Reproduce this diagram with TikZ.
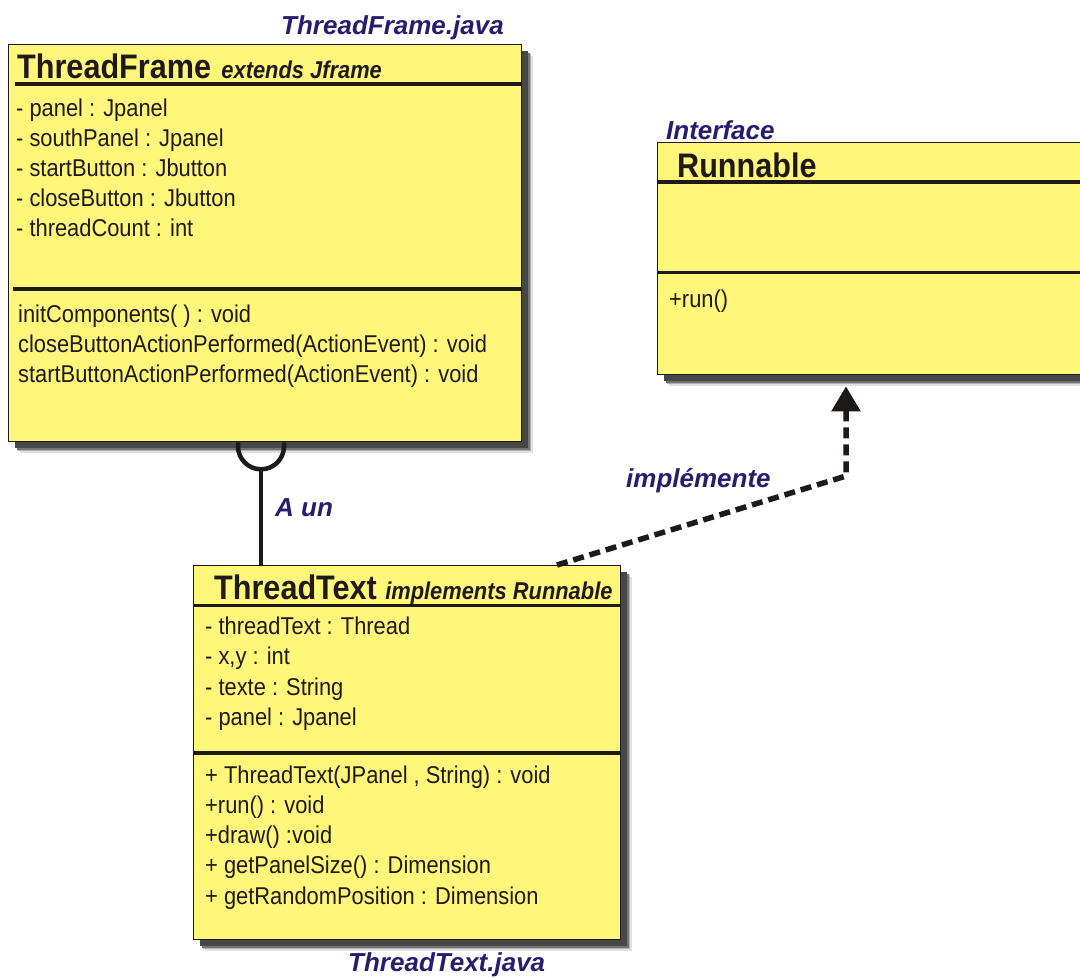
\documentclass[tikz,border=0pt]{standalone}
\usepackage{fontspec}
\setmainfont{Liberation Sans}[FakeStretch=0.9]
\newfontfamily\labelfont{Liberation Sans}
\usetikzlibrary{arrows.meta,shadows,calc}
\definecolor{noteyellow}{RGB}{255,246,122}
\definecolor{labelblue}{RGB}{40,28,110}
\definecolor{ink}{RGB}{30,26,26}
\tikzset{
  classbox/.style={draw=ink, line width=1.3pt, fill=noteyellow, anchor=north west,
    inner sep=0pt,
    general shadow={fill=black!12, shadow xshift=11pt, shadow yshift=-11pt},
    general shadow={fill=black!30, shadow xshift=9.5pt, shadow yshift=-9.5pt},
    general shadow={fill=black!55, shadow xshift=8pt, shadow yshift=-8pt},
    general shadow={fill=black!72, shadow xshift=6.5pt, shadow yshift=-6.5pt}},
  divider/.style={ink, line width=3.5pt},
  member/.style={anchor=base west, inner sep=0pt, text=ink,
    font=\fontsize{24.3}{29}\selectfont},
  classname/.style={anchor=base west, inner sep=0pt, text=ink,
    font=\fontsize{34}{40}\selectfont\bfseries},
  stereo/.style={anchor=base west, inner sep=0pt, text=ink,
    font=\fontsize{24.3}{29}\selectfont\bfseries\itshape},
  tag/.style={anchor=base west, inner sep=0pt, text=labelblue,
    font=\labelfont\fontsize{26}{31}\selectfont\bfseries\itshape},
  assoc/.style={ink, line width=4.5pt},
  realize/.style={ink, line width=5.5pt, dash pattern=on 11pt off 6pt,
    -{Triangle[length=25pt, width=28pt]}},
}
\begin{document}
\begin{tikzpicture}[x=1pt, y=-1pt]
  \fill[white] (0,0) rectangle (1080,978);
  \useasboundingbox (0,0) rectangle (1080,978);

  % ---- class boxes ----
  \node[classbox, minimum width=513pt, minimum height=397pt] (tf) at (8,44) {};
  \node[classbox, minimum width=443pt, minimum height=232pt] (rn) at (657,142) {};
  \node[classbox, minimum width=427pt, minimum height=374pt] (tt) at (193,565) {};

  % compartments
  \draw[divider] ($(tf.north west)+(7,40)$) -- ($(tf.north east)+(0,40)$);
  \draw[divider] ($(tf.north west)+(5,245)$) -- ($(tf.north east)+(0,245)$);
  \draw[divider] ($(rn.north west)+(0,40)$) -- ($(rn.north east)+(0,40)$);
  \draw[divider] ($(rn.north west)+(0,130.5)$) -- ($(rn.north east)+(0,130.5)$);
  \draw[divider] ($(tt.north west)+(0,40.5)$) -- ($(tt.north east)+(0,40.5)$);
  \draw[divider] ($(tt.north west)+(0,188)$) -- ($(tt.north east)+(0,188)$);

  % ---- ThreadFrame ----
  \node[classname] (tfname) at (17,78) {ThreadFrame};
  \node[stereo] (tfext) at ([xshift=10pt]tfname.base east) {extends Jframe};
  \foreach \txt [count=\i] in {{- panel : Jpanel}, {- southPanel : Jpanel},
      {- startButton : Jbutton}, {- closeButton : Jbutton}, {- threadCount : int}}
    \node[member] (tfattr\i) at (16,{116+30*(\i-1)}) {\txt};
  \foreach \txt [count=\i] in {{initComponents( ) : void},
      {closeButtonActionPerformed(ActionEvent) : void},
      {startButtonActionPerformed(ActionEvent) : void}}
    \node[member] (tfop\i) at (18,{322+30*(\i-1)}) {\txt};

  % ---- Runnable ----
  \node[classname] (rnname) at (677,177) {Runnable};
  \node[member] (rnop1) at (669,307) {+run()};

  % ---- ThreadText ----
  \node[classname] (ttname) at (214,599) {ThreadText};
  \node[stereo] (ttimpl) at ([xshift=8pt]ttname.base east) {implements Runnable};
  \foreach \txt [count=\i] in {{- threadText : Thread}, {- x,y : int},
      {- texte : String}, {- panel : Jpanel}}
    \node[member] (ttattr\i) at (205,{634+30.5*(\i-1)}) {\txt};
  \foreach \txt [count=\i] in {{+ ThreadText(JPanel , String) : void},
      {+run() : void}, {+draw() :void}, {+ getPanelSize() : Dimension},
      {+ getRandomPosition : Dimension}}
    \node[member] (ttop\i) at (205,{783+30.3*(\i-1)}) {\txt};

  % ---- association ThreadFrame -- ThreadText ----
  \coordinate (hub) at ($(tf.south west)+(253,4)$);
  \draw[assoc] ([xshift=-23pt]hub |- tf.south) -- ([xshift=-23pt]hub)
    arc[start angle=180, end angle=360, radius=23pt] -- ([xshift=23pt]hub |- tf.south);
  \draw[assoc] (hub |- tt.north) -- ([yshift=-23pt]hub);

  % ---- realization ThreadText -> Runnable ----
  \coordinate (bend) at (846,476);
  \draw[realize, shorten >=11pt] ($(tt.north west)+(364,0)$) -- (bend) -- (bend |- rn.south);

  % ---- labels ----
  \node[tag] (tffile) at (281,34) {ThreadFrame.java};
  \node[tag] (ttfile) at (348,971) {ThreadText.java};
  \node[tag] (rnkind) at (666,139) {Interface};
  \node[tag] (haslbl) at (275,516) {A un};
  \node[tag] (impllbl) at (626,487) {implémente};
\end{tikzpicture}
\end{document}
